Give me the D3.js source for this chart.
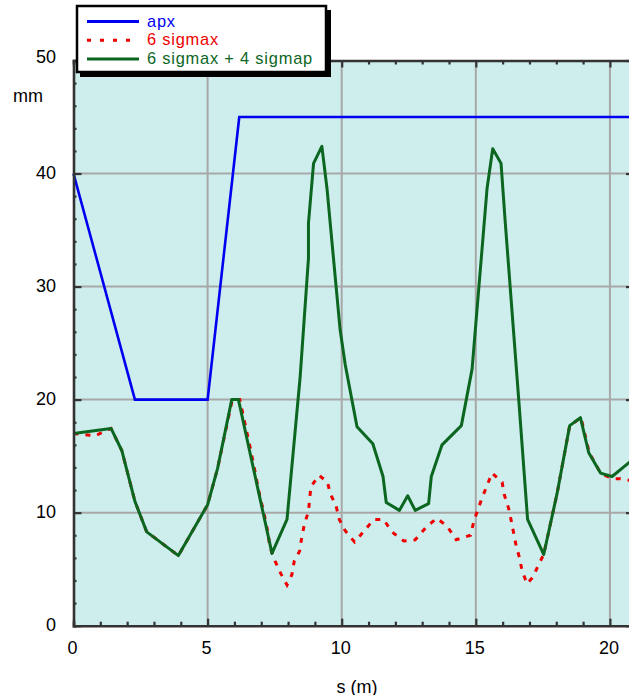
<!DOCTYPE html>
<html>
<head>
<meta charset="utf-8">
<script src="https://cdn.jsdelivr.net/npm/d3@7"></script>
<style>
  body { margin: 0; background: #fff; }
  svg text { font-family: "Liberation Sans", Arial, sans-serif; }
</style>
</head>
<body>
<svg id="chart" width="629" height="695"></svg>
<script>
// apx (aperture)
const apxS = [0, 2.29, 5.0, 6.18, 20.9];
const apxY = [40, 20, 20, 45, 45];

// 6 sigmax
const sigS = [0, 0.8, 1.4, 1.8, 2.29, 2.73, 3.91, 5.0, 5.37, 5.92, 6.2, 6.62, 6.96, 7.08, 7.27, 7.31, 7.52,
  7.73, 7.96, 8.14, 8.23, 8.43, 8.51, 8.61, 8.76, 8.85, 9.16, 9.47, 9.57, 9.79, 9.91, 10.13, 10.48,
  10.81, 11.19, 11.56, 11.87, 12.31, 12.74, 13.18, 13.55, 13.93, 14.27, 14.8, 14.94, 15.23, 15.42,
  15.6, 15.98, 16.06, 16.22, 16.32, 16.41, 16.51, 16.63, 16.72, 16.91, 17.13, 17.32, 17.53, 18.03,
  18.5, 18.92, 19.23, 19.65, 20.08, 20.39, 20.9];
const sigY = [17.0, 16.8, 17.45, 15.5, 11.0, 8.3, 6.2, 10.7, 13.9, 20.0, 20.0, 15.4, 11.3, 10.2, 8.0, 7.0, 5.7,
  4.6, 3.6, 4.5, 5.7, 6.6, 7.8, 9.0, 10.1, 12.3, 13.3, 12.7, 11.7, 10.6, 9.4, 8.4, 7.4,
  8.3, 9.4, 9.4, 8.3, 7.5, 7.6, 8.8, 9.5, 8.8, 7.6, 8.0, 9.35, 11.3, 12.4,
  13.5, 12.7, 11.6, 10.4, 9.3, 8.2, 7.0, 6.0, 4.9, 3.7, 4.3, 5.3, 6.3, 11.7,
  17.7, 18.4, 15.3, 13.5, 13.0, 13.0, 12.8];

// 6 sigmax + 4 sigmap
const totS = [0, 1.4, 1.8, 2.29, 2.73, 3.91, 5.0, 5.37, 5.9, 6.15, 6.58, 7.4, 7.96, 8.45, 8.76, 8.76,
  8.95, 9.26, 9.45, 9.94, 10.13, 10.57, 11.16, 11.54, 11.66, 12.15, 12.46, 12.74, 13.24, 13.34,
  13.74, 14.46, 14.86, 15.42, 15.63, 15.94, 16.1, 16.6, 16.93, 17.53, 18.03, 18.5, 18.9, 19.21,
  19.65, 20.08, 20.7, 20.9];
const totY = [17.0, 17.45, 15.5, 11.0, 8.3, 6.2, 10.7, 13.9, 20.0, 20.0, 15.3, 6.4, 9.4, 22.0, 32.5, 35.6,
  40.9, 42.4, 38.7, 26.2, 23.1, 17.6, 16.1, 13.2, 10.9, 10.2, 11.5, 10.2, 10.8, 13.2,
  16.0, 17.7, 22.7, 38.7, 42.2, 40.9, 35.6, 20.0, 9.4, 6.3, 11.7, 17.7, 18.4, 15.3,
  13.5, 13.2, 14.4, 14.9];

const xTicks = [0, 5, 10, 15, 20];
const yTicks = [0, 10, 20, 30, 40, 50];
const legendNames = ["apx", "6 sigmax", "6 sigmax + 4 sigmap"];

//-----------------------------------------------------------------------------

const svg = d3.select("#chart");
const plot = {left: 73.5, top: 60.5, right: 633, bottom: 625.7};

const x = d3.scaleLinear().domain([0, 20.86]).range([plot.left, plot.right]);
const y = d3.scaleLinear().domain([0, 50]).range([plot.bottom, plot.top]);

const colors = ["#0000f0", "#ee0000", "#0b661f"];

// background
svg.append("rect")
  .attr("x", plot.left).attr("y", plot.top)
  .attr("width", plot.right - plot.left).attr("height", plot.bottom - plot.top)
  .attr("fill", "#ceeded");

svg.append("clipPath").attr("id", "clip")
  .append("rect")
  .attr("x", plot.left).attr("y", plot.top)
  .attr("width", plot.right - plot.left).attr("height", plot.bottom - plot.top);

// grid lines
const grid = svg.append("g").attr("stroke", "#a8a8a8").attr("stroke-width", 2);
grid.selectAll(".gx").data(xTicks.filter(d => d > 0))
  .enter().append("line")
  .attr("x1", d => x(d)).attr("x2", d => x(d))
  .attr("y1", plot.top).attr("y2", plot.bottom);
grid.selectAll(".gy").data(yTicks.filter(d => d > 0 && d < 50))
  .enter().append("line")
  .attr("x1", plot.left).attr("x2", plot.right)
  .attr("y1", d => y(d)).attr("y2", d => y(d));

// curves
const line = d3.line().x(d => x(d[0])).y(d => y(d[1]));
const curves = svg.append("g").attr("clip-path", "url(#clip)").attr("fill", "none");

curves.append("path")
  .datum(d3.zip(sigS, sigY))
  .attr("d", line)
  .attr("stroke", colors[1])
  .attr("stroke-width", 3)
  .attr("stroke-dasharray", "5,7");

curves.append("path")
  .datum(d3.zip(totS, totY))
  .attr("d", line)
  .attr("stroke", colors[2])
  .attr("stroke-width", 3)
  .attr("stroke-linejoin", "round");

svg.append("path")
  .datum(d3.zip(apxS, apxY))
  .attr("d", line)
  .attr("fill", "none")
  .attr("stroke", colors[0])
  .attr("stroke-width", 2.6);

// axes, ticks pointing inwards
const axisColor = "#333";
const bottomAxis = svg.append("g").attr("transform", `translate(0,${plot.bottom})`)
  .call(d3.axisTop(x).tickValues(d3.range(0, 21, 1)).tickSize(4).tickFormat(""));
const topAxis = svg.append("g").attr("transform", `translate(0,${plot.top})`)
  .call(d3.axisBottom(x).tickValues(d3.range(0, 21, 1)).tickSize(4).tickFormat(""));
const leftAxis = svg.append("g").attr("transform", `translate(${plot.left},0)`)
  .call(d3.axisRight(y).tickValues(d3.range(0, 51, 2)).tickSize(3).tickFormat(""));
const rightAxis = svg.append("g").attr("transform", `translate(${plot.right},0)`)
  .call(d3.axisLeft(y).tickValues(d3.range(0, 51, 2)).tickSize(3).tickFormat(""));

[bottomAxis, topAxis, leftAxis, rightAxis].forEach(a => {
  a.select(".domain").attr("stroke", axisColor).attr("stroke-width", 2.6);
  a.selectAll(".tick line").attr("stroke", axisColor).attr("stroke-width", 2.2);
});

// longer major ticks
bottomAxis.selectAll(".tick line").filter(d => d % 5 === 0).attr("y2", -7);
topAxis.selectAll(".tick line").filter(d => d % 5 === 0).attr("y2", 7);
leftAxis.selectAll(".tick line").filter(d => d % 10 === 0).attr("x2", 8);
rightAxis.selectAll(".tick line").filter(d => d % 10 === 0).attr("x2", -7);

// tick labels
svg.selectAll(".xlab").data(xTicks)
  .enter().append("text")
  .attr("x", d => x(d) - 1).attr("y", 654)
  .attr("text-anchor", "middle")
  .attr("font-size", "18px")
  .text(d => d);

svg.selectAll(".ylab").data(yTicks)
  .enter().append("text")
  .attr("x", 56).attr("y", d => y(d) + (d === 50 ? 2 : 5.5)) // top label sits a bit higher
  .attr("text-anchor", "end")
  .attr("font-size", "18px")
  .text(d => d);

svg.append("text").attr("x", 13).attr("y", 101.5).attr("font-size", "18px").text("mm");
svg.append("text").attr("x", 357).attr("y", 692.5).attr("text-anchor", "middle")
  .attr("font-size", "18px").text("s (m)");

// legend box with shadow
svg.append("rect").attr("x", 80).attr("y", 10).attr("width", 251).attr("height", 67).attr("fill", "#000");
svg.append("rect").attr("x", 77).attr("y", 6).attr("width", 249).attr("height", 66)
  .attr("fill", "#fff").attr("stroke", "#000").attr("stroke-width", 2.5);

const legend = svg.append("g");
legendNames.forEach((name, i) => {
  const ly = 21.5 + i * 18.8;
  legend.append("line")
    .attr("x1", 87).attr("x2", 139).attr("y1", ly).attr("y2", ly)
    .attr("stroke", colors[i]).attr("stroke-width", 3)
    .attr("stroke-dasharray", i === 1 ? "4,9" : null);
  legend.append("text")
    .attr("x", 147).attr("y", ly + 5)
    .attr("font-size", "16.4px")
    .attr("letter-spacing", "0.8px")
    .attr("fill", colors[i])
    .text(name);
});
</script>
</body>
</html>
